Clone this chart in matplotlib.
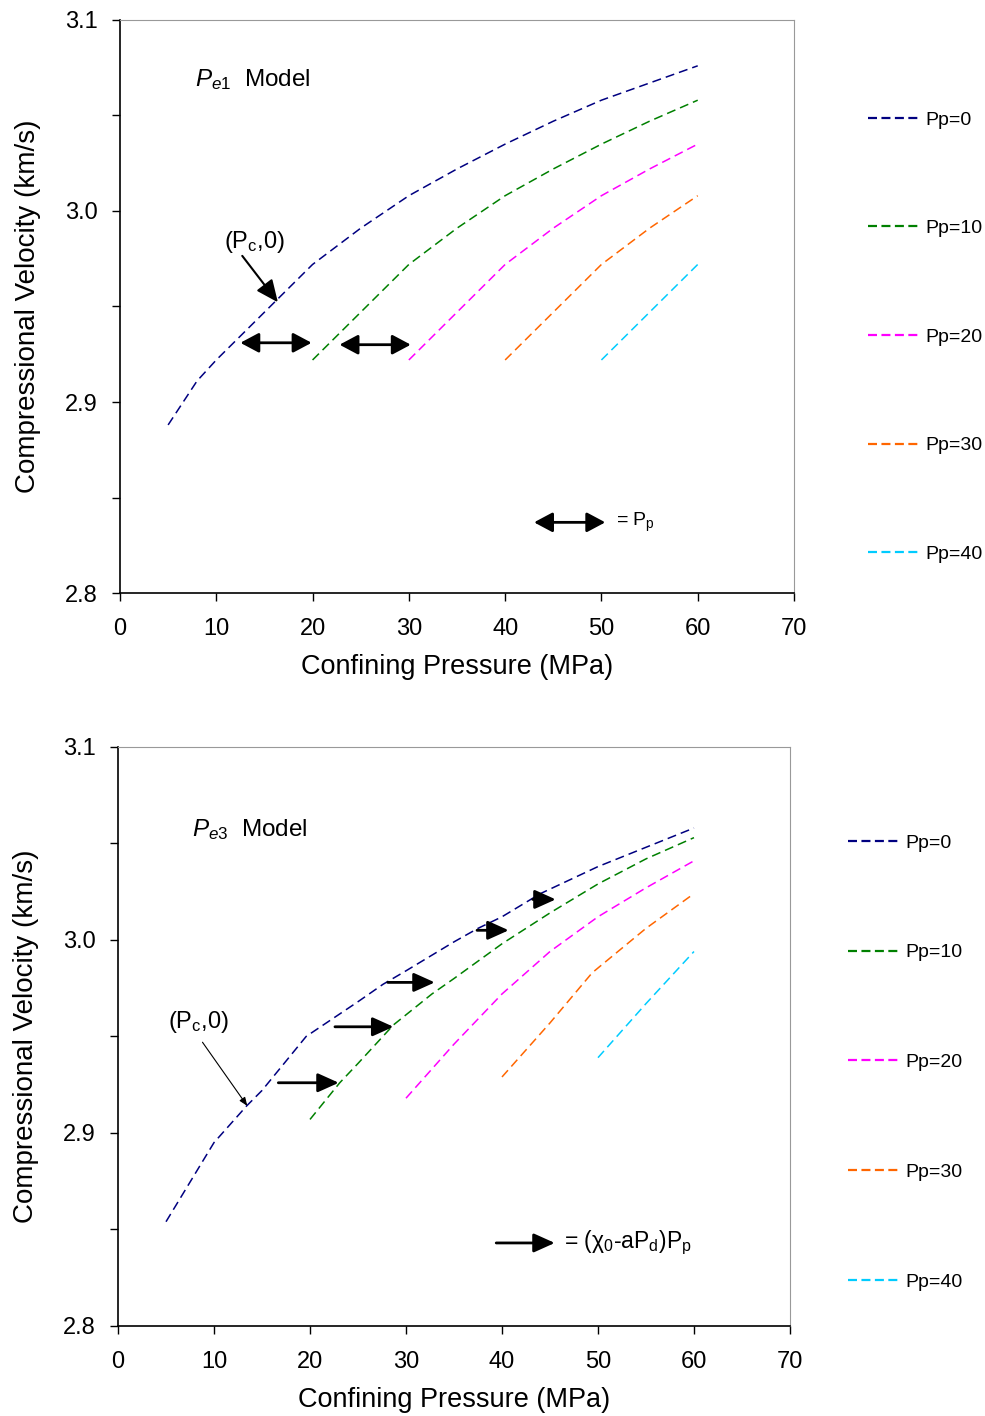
import numpy as np
import matplotlib
matplotlib.use('Agg')
import matplotlib.pyplot as plt

plt.rcParams['font.family'] = ['Liberation Sans', 'DejaVu Sans']
plt.rcParams['mathtext.fontset'] = 'custom'
plt.rcParams['mathtext.rm'] = 'Liberation Sans'
plt.rcParams['mathtext.it'] = 'Liberation Sans:italic'

# Pe1 model (top panel): confining pressure (MPa) vs Vp (km/s)
pe1_pc = {
    0: [5, 8, 10, 15, 20, 25, 30, 35, 40, 45, 50, 55, 60],
    10: [20, 25, 30, 35, 40, 45, 50, 55, 60],
    20: [30, 35, 40, 45, 50, 55, 60],
    30: [40, 45, 50, 55, 60],
    40: [50, 55, 60],
}
pe1_vp = {
    0: [2.888, 2.911, 2.922, 2.947, 2.972, 2.991, 3.008, 3.022, 3.035, 3.047, 3.058, 3.067, 3.076],
    10: [2.922, 2.947, 2.972, 2.991, 3.008, 3.022, 3.035, 3.047, 3.058],
    20: [2.922, 2.947, 2.972, 2.991, 3.008, 3.022, 3.035],
    30: [2.922, 2.947, 2.972, 2.991, 3.008],
    40: [2.922, 2.947, 2.972],
}

# Pe3 model (bottom panel)
pe3_pc = {
    0: [5, 10, 13.4, 15, 19.6, 25, 27.6, 30, 35, 37.5, 40, 44, 50, 55, 60],
    10: [20, 23.1, 25, 28.7, 32.7, 35, 40, 45, 50, 55, 60],
    20: [30, 35, 40, 45, 50, 55, 60],
    30: [40, 45, 49.4, 55, 60],
    40: [50, 55, 60],
}
pe3_vp = {
    0: [2.854, 2.895, 2.914, 2.922, 2.950, 2.968, 2.977, 2.984, 2.999, 3.006, 3.012, 3.024, 3.038, 3.048, 3.058],
    10: [2.907, 2.926, 2.936, 2.956, 2.972, 2.980, 2.998, 3.014, 3.029, 3.042, 3.053],
    20: [2.918, 2.946, 2.972, 2.994, 3.012, 3.027, 3.041],
    30: [2.929, 2.957, 2.983, 3.006, 3.024],
    40: [2.939, 2.967, 2.994],
}

pp_list = [0, 10, 20, 30, 40]
colors = {0: '#000080', 10: '#008000', 20: '#FF00FF', 30: '#FF6600', 40: '#00CCFF'}

# arrows (x0, x1, y)
pe1_arrows = [(12.5, 19.9, 2.931), (22.8, 30.2, 2.930)]
pe3_arrows = [(16.7, 23.0, 2.926), (22.6, 28.7, 2.955), (28.1, 33.0, 2.978),
              (37.4, 40.7, 3.005), (43.2, 45.6, 3.021)]

fig = plt.figure(figsize=(9.85, 14.16), dpi=100)
ax1 = fig.add_axes([0.1218, 0.5812, 0.6843, 0.4047])
ax2 = fig.add_axes([0.1198, 0.0636, 0.6822, 0.4089])


def style_axes(ax):
    ax.set_xlim(0, 70)
    ax.set_ylim(2.8, 3.1)
    ax.set_xticks(np.arange(0, 71, 10))
    ax.set_yticks([2.8, 2.9, 3.0, 3.1])
    ax.set_yticks([2.85, 2.95, 3.05], minor=True)
    ax.set_yticklabels(['2.8', '2.9', '3.0', '3.1'])
    ax.tick_params(axis='both', which='both', direction='out', length=6, width=1,
                   labelsize=17, colors='black')
    ax.tick_params(axis='x', pad=12)
    ax.tick_params(axis='y', pad=10)
    ax.spines['top'].set_color('#999999')
    ax.spines['right'].set_color('#999999')
    ax.spines['left'].set_linewidth(1.2)
    ax.spines['bottom'].set_linewidth(1.2)
    ax.set_xlabel('Confining Pressure (MPa)', fontsize=19.5, labelpad=10)
    ax.set_ylabel('Compressional Velocity (km/s)', fontsize=20, labelpad=17)


for ax, pcs, vps in [(ax1, pe1_pc, pe1_vp), (ax2, pe3_pc, pe3_vp)]:
    for pp in pp_list:
        ax.plot(pcs[pp], vps[pp], color=colors[pp], lw=1.1, dashes=(5.9, 3.3),
                label='Pp=%d' % pp)
    style_axes(ax)

# legends outside on the right
leg_kw = dict(frameon=False, fontsize=14, handlelength=2.7, handletextpad=0.25,
              loc='upper left', borderpad=0, borderaxespad=0)
h, l = ax1.get_legend_handles_labels()
leg1 = fig.legend(h, l, bbox_to_anchor=(0.881, 0.9216), labelspacing=4.68, **leg_kw)
h, l = ax2.get_legend_handles_labels()
leg2 = fig.legend(h, l, bbox_to_anchor=(0.861, 0.4110), labelspacing=4.74, **leg_kw)
for leg in (leg1, leg2):
    for line in leg.get_lines():
        line.set_linewidth(1.6)
        line.set_dashes((4.05, 2.0))

# top panel annotations
ax1.text(7.8, 3.069, r'$\mathit{P}_{\mathit{e1}}$  Model', fontsize=17.5, va='center')
for x0, x1, y in pe1_arrows:
    ax1.annotate('', xy=(x1, y), xytext=(x0, y),
                 arrowprops=dict(arrowstyle='<|-|>,head_length=0.75,head_width=0.4',
                                 mutation_scale=15, lw=2, color='black',
                                 shrinkA=0, shrinkB=0))
ax1.annotate('', xy=(50.4, 2.837), xytext=(43.0, 2.837),
             arrowprops=dict(arrowstyle='<|-|>,head_length=0.75,head_width=0.4',
                             mutation_scale=15, lw=2, color='black',
                             shrinkA=0, shrinkB=0))
ax1.text(51.5, 2.837, r'= P$_\mathrm{p}$', fontsize=14, va='center')
ax1.text(14.0, 2.984, r'(P$_\mathrm{c}$,0)', fontsize=17, ha='center', va='center')
ax1.annotate('', xy=(16.4, 2.9522), xytext=(12.7, 2.9765),
             arrowprops=dict(arrowstyle='-|>,head_length=0.9,head_width=0.4',
                             mutation_scale=15, lw=1.5, color='black',
                             shrinkA=0, shrinkB=0))

# bottom panel annotations
ax2.text(7.7, 3.057, r'$\mathit{P}_{\mathit{e3}}$  Model', fontsize=17.5, va='center')
for x0, x1, y in pe3_arrows:
    ax2.annotate('', xy=(x1, y), xytext=(x0, y),
                 arrowprops=dict(arrowstyle='-|>,head_length=0.8,head_width=0.36',
                                 mutation_scale=16, lw=2, color='black',
                                 shrinkA=0, shrinkB=0))
ax2.annotate('', xy=(45.5, 2.843), xytext=(39.4, 2.843),
             arrowprops=dict(arrowstyle='-|>,head_length=0.8,head_width=0.36',
                             mutation_scale=16, lw=2, color='black',
                             shrinkA=0, shrinkB=0))
ax2.text(46.5, 2.843, r'= (χ$_0$-aP$_\mathrm{d}$)P$_\mathrm{p}$', fontsize=16.5, va='center')
ax2.text(8.4, 2.9577, r'(P$_\mathrm{c}$,0)', fontsize=17, ha='center', va='center')
ax2.annotate('', xy=(13.47, 2.914), xytext=(8.8, 2.947),
             arrowprops=dict(arrowstyle='-|>,head_length=0.5,head_width=0.2',
                             mutation_scale=10, lw=0.8, color='black',
                             shrinkA=0, shrinkB=0))

fig.savefig('out.png', dpi=100)
